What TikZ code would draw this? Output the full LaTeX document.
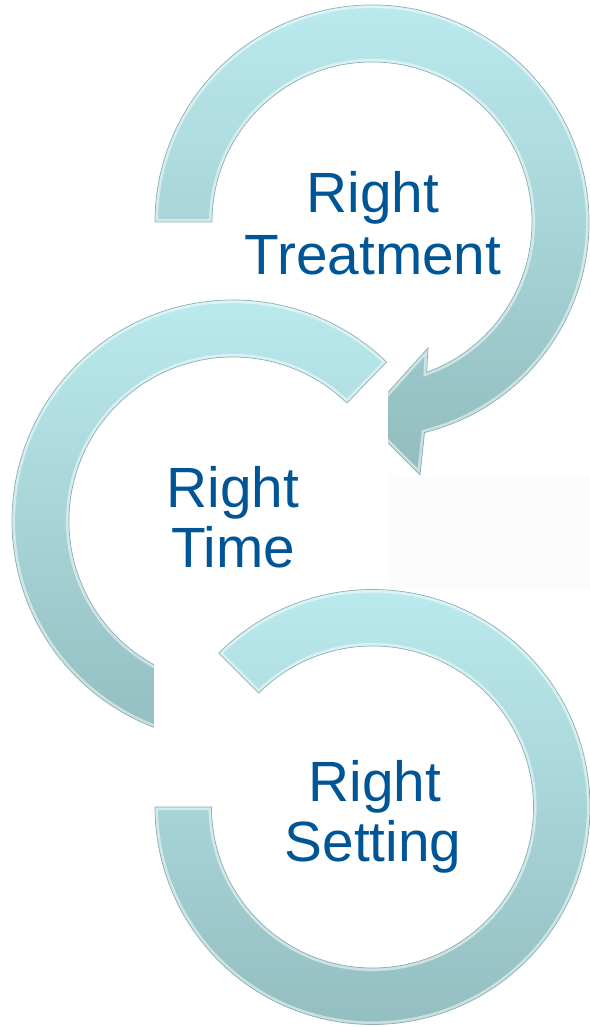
\documentclass[tikz,border=0pt]{standalone}
\usepackage{fontspec}
\setmainfont{Liberation Sans}
\definecolor{ringtop}{RGB}{188,236,240}
\definecolor{ringmid}{RGB}{172,220,224}
\definecolor{ringbot}{RGB}{146,188,190}
\definecolor{ringedge}{RGB}{120,160,162}
\definecolor{lblblue}{RGB}{0,85,150}
\definecolor{faint}{RGB}{252,252,252}
\begin{document}
\begin{tikzpicture}[x=0.02cm,y=0.02cm,
  ring/.style={top color=ringtop, middle color=ringmid, bottom color=ringbot},
  bevel/.style={draw=white, opacity=0.5, line width=3.5pt},
  rim/.style={draw=ringedge, draw opacity=0.8, line width=0.4pt},
  lbl/.style={font=\fontsize{32.3}{35}\selectfont, text=lblblue, anchor=base, inner sep=0pt}]
\useasboundingbox (0,0) rectangle (590,1027);
\fill[white] (0,0) rectangle (590,1027);
% top ring with arrow head
\def\ringA{(155,805) -- (212,805) arc[start angle=180,end angle=-70,radius=160] -- (428,679) -- (364,608) -- (420,552) -- ({372+217*cos(-76)},{805+217*sin(-76)}) arc[start angle=-76,end angle=180,radius=217] -- cycle}
\shade[ring] \ringA;
\begin{scope}\clip \ringA; \draw[bevel] \ringA; \end{scope}
\draw[rim] \ringA;
% faint background panel
\fill[faint] (388,437) rectangle (590,551);
% middle panel
\fill[white] (0,267) rectangle (388,730);
\def\ringB{({233+221*cos(46)},{506+221*sin(46)}) arc[start angle=46,end angle=290,radius=221] -- ({233+164*cos(290)},{506+164*sin(290)}) arc[start angle=290,end angle=46,radius=164] -- cycle}
\shade[ring] \ringB;
\begin{scope}\clip \ringB; \draw[bevel] \ringB; \end{scope}
\draw[rim] \ringB;
% bottom panel
\fill[white] (154,0) rectangle (590,437);
\def\ringC{({372.5+217.5*cos(135)},{220+217.5*sin(135)}) arc[start angle=135,end angle=-180,radius=217.5] -- (211.5,220) arc[start angle=-180,end angle=135,radius=161] -- cycle}
\shade[ring] \ringC;
\begin{scope}\clip \ringC; \draw[bevel] \ringC; \end{scope}
\draw[rim] \ringC;
% labels
\node[lbl] (t1a) at (373,814) {Right};
\node[lbl] (t1b) at (373,752) {Treatment};
\node[lbl] (t2a) at (233,519) {Right};
\node[lbl] (t2b) at (233,459) {Time};
\node[lbl] (t3a) at (375,225) {Right};
\node[lbl] (t3b) at (373,165) {Setting};
\end{tikzpicture}
\end{document}
